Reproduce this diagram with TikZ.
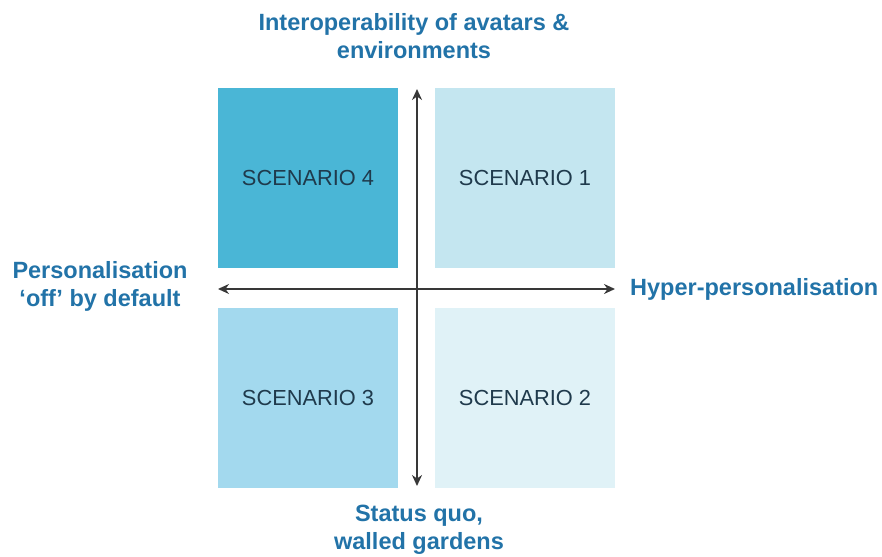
\documentclass[tikz,border=0pt]{standalone}
\usepackage{fontspec}
\setmainfont{Liberation Sans}
\usetikzlibrary{arrows.meta,positioning}

\definecolor{quadA}{HTML}{4AB6D6}
\definecolor{quadB}{HTML}{C4E6F0}
\definecolor{quadC}{HTML}{A3D9EE}
\definecolor{quadD}{HTML}{E0F2F7}
\definecolor{axislabel}{HTML}{2273A8}
\definecolor{scentext}{HTML}{1F3A4C}
\definecolor{axisline}{HTML}{383838}

\tikzstyle{quad}=[minimum width=180pt, minimum height=180pt, inner sep=0pt,
  text=scentext, font=\fontsize{21.8pt}{26pt}\selectfont]
\tikzstyle{axistext}=[text=axislabel, align=center, inner sep=0pt,
  font=\fontsize{23.5pt}{28pt}\selectfont\bfseries]
\tikzstyle{axis}=[draw=axisline, line width=2.4pt, {Stealth[length=11pt,width=10pt]}-{Stealth[length=11pt,width=10pt]}]

\begin{document}
\begin{tikzpicture}[x=1pt, y=-1pt]
    \useasboundingbox (0,0) rectangle (882,556);

    % Čtyři kvadranty
    \node[quad, fill=quadA] (sc4) at (308,178) {SCENARIO 4};
    \node[quad, fill=quadB] (sc1) at (525,178) {SCENARIO 1};
    \node[quad, fill=quadC] (sc3) at (308,398) {SCENARIO 3};
    \node[quad, fill=quadD] (sc2) at (525,398) {SCENARIO 2};

    % Konce os
    \coordinate (top) at (417,89);
    \coordinate (bottom) at (417,486);
    \coordinate (left) at (218,289);
    \coordinate (right) at (615,289);

    % Osy
    \draw[axis] (left) -- (right);
    \draw[axis] (bottom) -- (top);

    % Popisky os
    \node[axistext] (interop) at (414,36) {Interoperability of avatars \&\\environments};
    \node[axistext] (status) at (419,530) {Status quo,\\walled gardens};
    \node[axistext] (off) at (100,286) {Personalisation\\‘off’ by default};
    \node[axistext, anchor=west] (hyper) at (630,289) {Hyper-personalisation};
\end{tikzpicture}
\end{document}
